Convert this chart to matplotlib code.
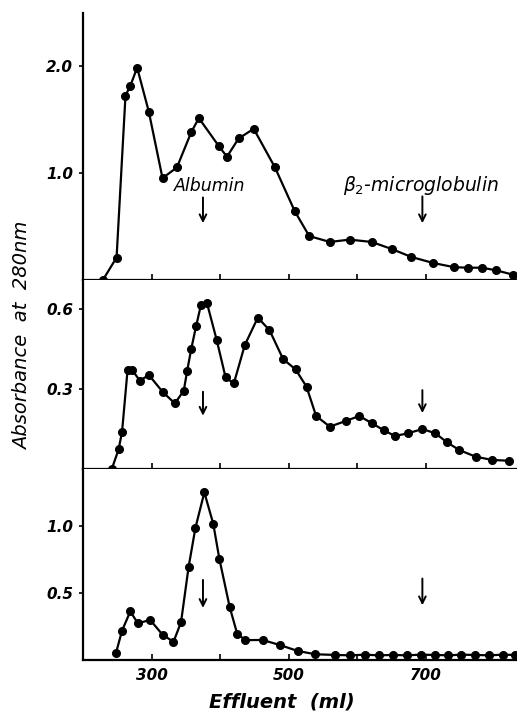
import matplotlib.pyplot as plt

# Effluent volume (ml) and absorbance at 280 nm for the three runs
ml_top = [229, 249, 262, 269, 279, 296, 316, 337, 358, 369, 398, 410, 427, 449,
          480, 509, 530, 560, 589, 621, 650, 679, 710, 741, 761, 782, 803, 827]
abs_top = [0.00, 0.21, 1.72, 1.81, 1.98, 1.57, 0.95, 1.05, 1.38, 1.51, 1.25, 1.15, 1.32, 1.41,
           1.05, 0.64, 0.41, 0.355, 0.377, 0.355, 0.29, 0.215, 0.16, 0.12, 0.115, 0.115, 0.09, 0.05]

ml_mid = [242, 252, 257, 265, 272, 283, 296, 316, 334, 347, 352, 358, 365, 372, 381,
          395, 408, 420, 436, 455, 472, 492, 510, 526, 540, 560, 583, 603, 622, 639,
          655, 674, 695, 714, 731, 749, 773, 797, 822]
abs_mid = [0.0, 0.074, 0.14, 0.371, 0.371, 0.331, 0.353, 0.29, 0.246, 0.294, 0.369, 0.452,
           0.536, 0.615, 0.621, 0.484, 0.344, 0.321, 0.465, 0.568, 0.521, 0.412, 0.374, 0.309,
           0.199, 0.159, 0.18, 0.199, 0.171, 0.145, 0.124, 0.134, 0.15, 0.134, 0.10, 0.071,
           0.046, 0.034, 0.031]

ml_bot = [248, 257, 269, 280, 298, 316, 332, 343, 354, 364, 377, 390, 399, 414, 425, 437,
          462, 488, 513, 539, 568, 590, 611, 632, 652, 672, 693, 713, 733, 752, 772, 792,
          812, 830]
abs_bot = [0.05, 0.22, 0.364, 0.275, 0.30, 0.19, 0.136, 0.283, 0.695, 0.99, 1.255, 1.02,
           0.755, 0.396, 0.195, 0.149, 0.15, 0.111, 0.068, 0.043, 0.038, 0.035, 0.04, 0.035,
           0.038, 0.035, 0.04, 0.038, 0.035, 0.04, 0.038, 0.035, 0.04, 0.038]

x_ticks = [300, 400, 500, 600, 700]
x_ticklabels = ["300", "", "500", "", "700"]
arrow_ml = [375, 695]

panels = [
    # (x, y, ylim, yticks, yticklabels, arrow spans)
    (ml_top, abs_top, 2.49, [1.0, 2.0], ["1.0", "2.0"], [(0.77, 0.53), (0.78, 0.53)]),
    (ml_mid, abs_mid, 0.709, [0.3, 0.6], ["0.3", "0.6"], [(0.29, 0.20), (0.296, 0.21)]),
    (ml_bot, abs_bot, 1.43, [0.5, 1.0], ["0.5", "1.0"], [(0.60, 0.39), (0.61, 0.41)]),
]
# axes boxes in figure fraction (left, bottom, width, height)
boxes = [
    (0.1605, 0.6078, 0.8395, 0.374),
    (0.1605, 0.3431, 0.8395, 0.2647),
    (0.1605, 0.0756, 0.8395, 0.2675),
]

tick_font = dict(family="DejaVu Sans", style="italic", weight="bold", size=11)
text_font = dict(family="DejaVu Sans", style="italic", size=12.5)

fig = plt.figure(figsize=(5.17, 7.14), dpi=100)
fig.patch.set_facecolor("white")

axes = []
for (x, y, ytop, yt, ytl, arrows), box in zip(panels, boxes):
    ax = fig.add_axes(box)
    ax.plot(x, y, color="black", lw=1.6, marker="o", ms=5.5,
            markerfacecolor="black", markeredgecolor="black", clip_on=False, zorder=3)
    ax.set_xlim(200, 833)
    ax.set_ylim(0, ytop)
    ax.spines["top"].set_visible(False)
    ax.spines["right"].set_visible(False)
    ax.spines["left"].set_linewidth(1.6)
    ax.spines["bottom"].set_linewidth(1.6)
    ax.set_xticks(x_ticks)
    ax.set_xticklabels(x_ticklabels, fontdict=tick_font)
    ax.tick_params(axis="x", direction="in", length=4, width=1.2, pad=6)
    ax.set_yticks(yt)
    ax.set_yticklabels(ytl, fontdict=tick_font)
    ax.tick_params(axis="y", direction="out", length=3, width=1.2, pad=4)
    for xm, (y0, y1) in zip(arrow_ml, arrows):
        ax.annotate("", xy=(xm, y1), xytext=(xm, y0),
                    arrowprops=dict(arrowstyle="->", color="black", lw=1.4,
                                    mutation_scale=12, shrinkA=0, shrinkB=0))
    axes.append(ax)

for ax in axes[:2]:
    ax.tick_params(axis="x", labelbottom=False)

axes[0].text(385, 0.88, "Albumin", ha="center", va="center", fontdict=text_font)
axes[0].text(693, 0.88, r"$\beta_2$-microglobulin", ha="center", va="center",
             fontdict=dict(family="DejaVu Sans", style="italic", size=13.5))

fig.text(0.545, 0.017, "Effluent  (ml)", ha="center", va="center",
         fontdict=dict(family="DejaVu Sans", style="italic", weight="bold", size=14))
fig.text(0.043, 0.53, "Absorbance  at  280nm", rotation=90, ha="center", va="center",
         fontdict=dict(family="DejaVu Sans", style="italic", size=14))

fig.savefig("out.png", dpi=100, facecolor="white")
plt.close(fig)
